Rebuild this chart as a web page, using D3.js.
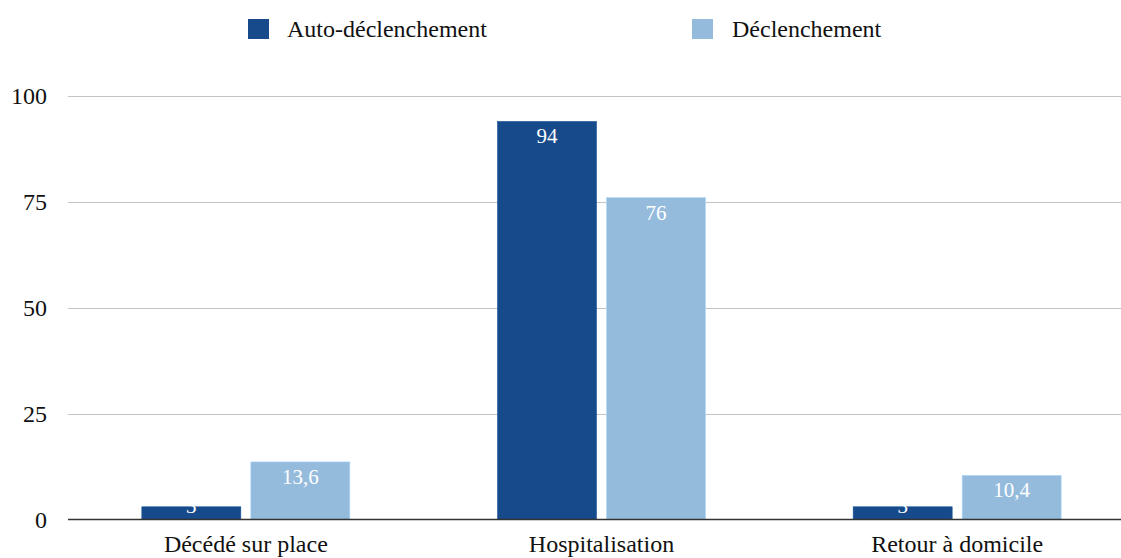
<!DOCTYPE html>
<html>
<head>
<meta charset="utf-8">
<script src="https://cdn.jsdelivr.net/npm/d3@7"></script>
<style>
  html, body { margin: 0; padding: 0; background: #fff; }
  svg { display: block; font-family: "Liberation Serif", "Times New Roman", serif; }
</style>
</head>
<body>
<svg id="chart" width="1121" height="558"></svg>
<script>
const categories = ["Décédé sur place", "Hospitalisation", "Retour à domicile"];
const seriesNames = ["Auto-déclenchement", "Déclenchement"];
const autoValues = [3, 94, 3];
const declValues = [13.6, 76, 10.4];
const yTicks = [0, 25, 50, 75, 100];
const colors = ["#174a8a", "#95bbdc"];

const svg = d3.select("#chart");
const W = 1121;

const x0 = d3.scaleBand().domain(categories).range([68, 1135]).padding(0);
const groupW = 208;
const x1 = d3.scaleBand().domain(seriesNames).range([0, groupW]).paddingInner(0.0917).paddingOuter(0);
const y = d3.scaleLinear().domain([0, 100]).range([519.5, 96]);

const locale = d3.formatLocale({decimal: ",", thousands: " ", grouping: [3], currency: ["", "€"]});
const fmt = v => Number.isInteger(v) ? String(v) : locale.format(".1f")(v);

// gridlines
const yAxis = d3.axisLeft(y).tickValues(yTicks).tickSize(0).tickPadding(0).tickFormat(d => d);
const gAxis = svg.append("g").attr("transform", "translate(47,0)").call(yAxis);
gAxis.select(".domain").remove();
gAxis.selectAll("text")
  .attr("font-size", 24).attr("fill", "#111").attr("font-family", "Liberation Serif, serif")
  .attr("text-anchor", "end").attr("dy", "0.33em");

svg.append("g").selectAll("line").data(yTicks.filter(d => d !== 0)).join("line")
  .attr("x1", 68).attr("x2", W)
  .attr("y1", d => Math.round(y(d)) + 0.5).attr("y2", d => Math.round(y(d)) + 0.5)
  .attr("stroke", "#c4c4c4").attr("stroke-width", 1.2);

const data = categories.map((c, i) => ({cat: c, vals: [
  {s: seriesNames[0], v: autoValues[i], k: 0},
  {s: seriesNames[1], v: declValues[i], k: 1}
]}));

const groups = svg.append("g").selectAll("g").data(data).join("g")
  .attr("transform", d => `translate(${x0(d.cat) + (x0.bandwidth() - groupW) / 2},0)`);

groups.selectAll("rect").data(d => d.vals).join("rect")
  .attr("x", d => x1(d.s)).attr("width", x1.bandwidth())
  .attr("y", d => y(d.v)).attr("height", d => y(0) - y(d.v))
  .attr("fill", d => colors[d.k])
  .attr("stroke", d => d3.color(colors[d.k]).brighter(0.4)).attr("stroke-width", 0.6);

groups.selectAll("text").data(d => d.vals).join("text")
  .attr("x", d => x1(d.s) + x1.bandwidth() / 2)
  .attr("y", d => Math.min(y(d.v) + 22, y(0) - 7))
  .attr("text-anchor", "middle").attr("font-size", 21).attr("fill", "#fff")
  .text(d => fmt(d.v));

// x axis line
svg.append("line").attr("x1", 68).attr("x2", W).attr("y1", 519.5).attr("y2", 519.5)
  .attr("stroke", "#333").attr("stroke-width", 1.6);

// x labels
const xAxis = d3.axisBottom(x0).tickSize(0).tickPadding(0);
const gx = svg.append("g").attr("transform", "translate(0,552)").call(xAxis);
gx.select(".domain").remove();
gx.selectAll("text").attr("font-size", 24).attr("fill", "#111")
  .attr("font-family", "Liberation Serif, serif").attr("dy", 0);

// legend
const legendX = [248, 692];
const lg = svg.append("g").selectAll("g").data(seriesNames).join("g")
  .attr("transform", (d, i) => `translate(${legendX[i]},19)`);
lg.append("rect").attr("width", 21).attr("height", 20).attr("fill", (d, i) => colors[i]);
lg.append("text").attr("x", (d, i) => i === 0 ? 39 : 40).attr("y", 18)
  .attr("font-size", 24).attr("fill", "#111").text(d => d);
</script>
</body>
</html>
